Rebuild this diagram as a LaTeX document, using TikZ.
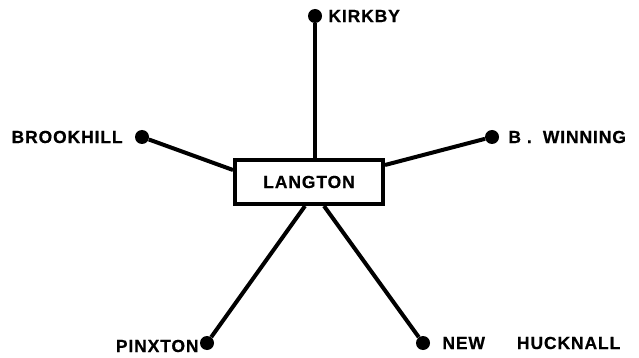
\documentclass[tikz,border=0pt]{standalone}
\usepackage{fontspec}
\usetikzlibrary{positioning}
\newfontfamily\signfont[LetterSpace=5,FakeBold=0.6]{Liberation Sans}

\begin{document}
\begin{tikzpicture}[x=1pt,y=-1pt,
    stn/.style={circle,fill=black,inner sep=0pt,minimum size=14pt},
    lbl/.style={inner sep=0pt,font=\signfont\bfseries\fontsize{17.5}{19}\selectfont},
    hub/.style={draw,line width=4pt,fill=white,minimum width=148pt,minimum height=44pt,inner sep=0pt,font=\signfont\bfseries\fontsize{17.5}{19}\selectfont},
    link/.style={line width=4pt}]
  \useasboundingbox (0,0) rectangle (639,358);
  \node[hub] (lang) at (309,182) {\raisebox{-3pt}{LANGTON}};
  \node[stn] (kirk) at (315,16) {};
  \node[stn] (brook) at (142,137) {};
  \node[stn] (winn) at (492,137) {};
  \node[stn] (pinx) at (207,343) {};
  \node[stn] (huck) at (423,343) {};
  \node[lbl,right=6pt of kirk] (kirkt) {KIRKBY};
  \node[lbl,left=12pt of brook] (brookt) {BROOKHILL};
  \node[lbl,right=9pt of winn] (winnt) {B\hspace{6pt}.\hspace{11pt}WINNING};
  \node[lbl,left=1pt of pinx,yshift=-3pt] (pinxt) {PINXTON};
  \node[lbl,right=12pt of huck] (huckt) {NEW\hspace{32pt}HUCKNALL};
  \coordinate (lang-n) at (kirk |- lang.north);
  \coordinate (lang-w) at ([yshift=12pt]lang.west);
  \coordinate (lang-e) at ([yshift=17pt]lang.east);
  \coordinate (lang-sw) at ([xshift=-4pt]lang.south);
  \coordinate (lang-se) at ([xshift=15pt]lang.south);
  \foreach \u/\v in {kirk/lang-n,brook/lang-w,winn/lang-e,pinx/lang-sw,huck/lang-se}\draw[link] (\u)--(\v);
\end{tikzpicture}
\end{document}
